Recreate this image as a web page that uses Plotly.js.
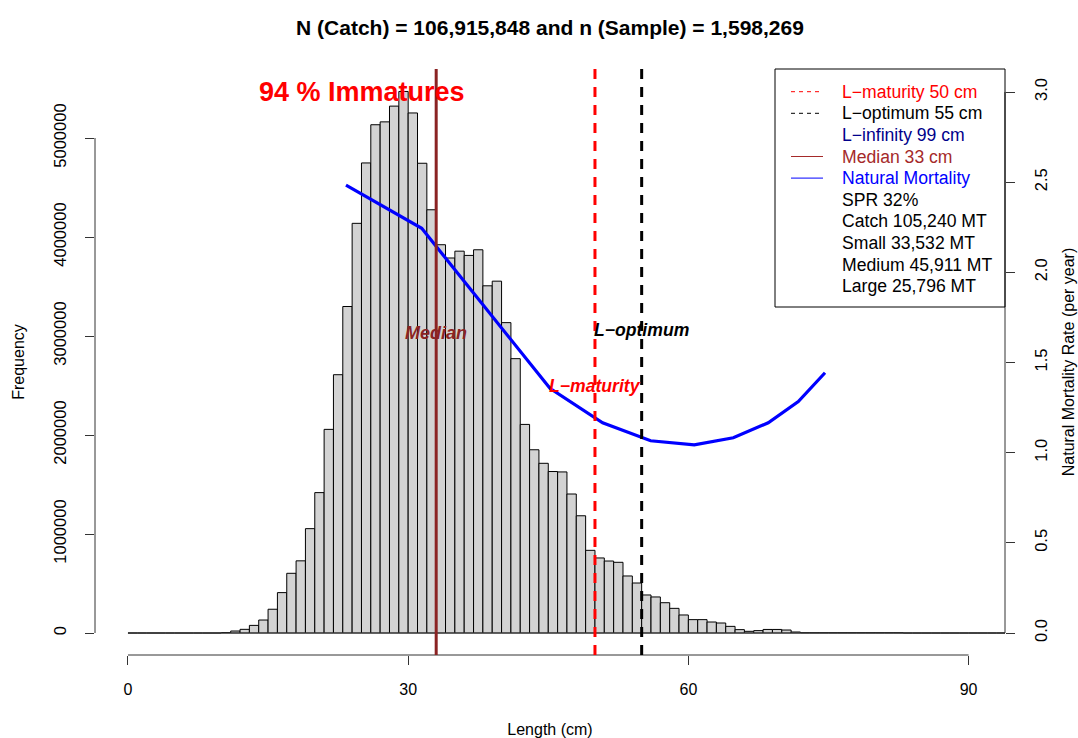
<!DOCTYPE html>
<html>
<head>
<meta charset="utf-8">
<script src="https://cdn.plot.ly/plotly-3.0.1.min.js"></script>
<style>html,body{margin:0;padding:0;background:#fff;}#chart{width:1078px;height:738px;}</style>
</head>
<body>
<div id="chart"></div>
<script>
// ---- Data ----
const binStarts = Array.from({length: 94}, (_, i) => i); // 1 cm bins, 0..93
const frequency = [
  0, 0, 0, 0, 0, 0, 0, 0, 0, 0,
  5000, 20000, 37000, 77000, 131000, 240000, 408000, 603000, 729000, 1054000,
  1418000, 2057000, 2609000, 3298000, 4138000, 4748000, 5134000, 5163000, 5322000, 5470000,
  5253000, 4745000, 4275000, 3922000, 3788000, 3857000, 3814000, 3871000, 3507000, 3554000,
  3135000, 2771000, 2107000, 1851000, 1714000, 1631000, 1627000, 1404000, 1184000, 835000,
  758000, 727000, 714000, 576000, 505000, 384000, 364000, 306000, 249000, 182000,
  135000, 135000, 111000, 101000, 67000, 34000, 17000, 24000, 36000, 36000,
  30000, 10000, 3000, 3000, 3000, 3000, 3000, 3000, 3000, 3000,
  3000, 3000, 3000, 0, 0, 0, 0, 0, 0, 0,
  0, 0, 0, 0
];
const mortLength = [23.34, 31.45, 45.18, 50.82, 55.96, 60.63, 64.81, 68.55, 71.77, 74.63];
const mortRate   = [2.484, 2.244, 1.357, 1.166, 1.066, 1.043, 1.083, 1.166, 1.283, 1.443];
const medianLen = 33;
const lMaturity = 50;
const lOptimum = 55;
const lInfinity = 99;
const xTicks = [0, 30, 60, 90];
const yTicks = [0, 1000000, 2000000, 3000000, 4000000, 5000000];
const y2Ticks = [0, 0.5, 1.0, 1.5, 2.0, 2.5, 3.0];
const titleText = "N (Catch) = 106,915,848 and n (Sample) = 1,598,269";
const immatureText = "94 % Immatures";
const legendItems = [
  {text: "L\u2212maturity " + lMaturity + " cm", color: "#FF0000", key: "dash", keyColor: "#FF0000"},
  {text: "L\u2212optimum " + lOptimum + " cm", color: "#000000", key: "dash", keyColor: "#000000"},
  {text: "L\u2212infinity " + lInfinity + " cm", color: "#00008B", key: null},
  {text: "Median " + medianLen + " cm", color: "#A52A2A", key: "solid", keyColor: "#A52A2A"},
  {text: "Natural Mortality", color: "#0000FF", key: "solid", keyColor: "#0000FF"},
  {text: "SPR 32%", color: "#000000", key: null},
  {text: "Catch 105,240 MT", color: "#000000", key: null},
  {text: "Small 33,532 MT", color: "#000000", key: null},
  {text: "Medium 45,911 MT", color: "#000000", key: null},
  {text: "Large 25,796 MT", color: "#000000", key: null}
];

// ---- Chart ----
const FONT = "Liberation Sans, Arial, Helvetica, sans-serif";
const binCenters = binStarts.map(b => b + 0.5);
const lastEdge = binStarts[binStarts.length - 1] + 1;

const traces = [
  {
    type: "scatter", mode: "lines",
    x: [binStarts[0], lastEdge], y: [0, 0],
    line: {color: "#444444", width: 1},
    hoverinfo: "skip", showlegend: false
  },
  {
    type: "bar", x: binCenters, y: frequency, width: 1,
    marker: {color: "#D3D3D3", line: {color: "#000000", width: 1}},
    name: "Frequency", showlegend: false
  },
  {
    type: "scatter", mode: "lines", x: mortLength, y: mortRate, yaxis: "y2",
    line: {color: "#0000FF", width: 3.2},
    name: "Natural Mortality", showlegend: false
  }
];

const plotW = 910, plotH = 586;
const px = v => v / plotW, py = v => v / plotH;

const shapes = [
  {type: "line", xref: "x", yref: "paper", x0: xTicks[0], x1: xTicks[xTicks.length - 1], y0: 0, y1: 0,
   line: {color: "#333333", width: 1}},
  {type: "line", xref: "paper", yref: "y", x0: 0, x1: 0, y0: yTicks[0], y1: yTicks[yTicks.length - 1],
   line: {color: "#333333", width: 1}},
  {type: "line", xref: "paper", yref: "y2", x0: 1, x1: 1, y0: y2Ticks[0], y1: y2Ticks[y2Ticks.length - 1],
   line: {color: "#333333", width: 1}},
  {type: "line", xref: "x", yref: "paper", x0: medianLen, x1: medianLen, y0: 0, y1: 1,
   line: {color: "#8B2323", width: 3}},
  {type: "line", xref: "x", yref: "paper", x0: lMaturity, x1: lMaturity, y0: 0, y1: 1,
   line: {color: "#FF0000", width: 3, dash: "10px,8px"}},
  {type: "line", xref: "x", yref: "paper", x0: lOptimum, x1: lOptimum, y0: 0, y1: 1,
   line: {color: "#000000", width: 3, dash: "10px,8px"}},
  {type: "rect", xref: "paper", yref: "paper", x0: 1 - px(230), x1: 1, y0: 1 - py(238), y1: 1,
   line: {color: "#000000", width: 1}, fillcolor: "rgba(255,255,255,0)"}
];

const annotations = [
  {xref: "x", yref: "y", x: 25.05, y: 5460000, text: "<b>" + immatureText + "</b>", showarrow: false,
   font: {family: FONT, size: 27, color: "#FF0000"}, xanchor: "center", yanchor: "middle"},
  {xref: "x", yref: "y", x: medianLen, y: 3030000, text: "<b><i>Median</i></b>", showarrow: false,
   font: {family: FONT, size: 18, color: "#8B2323"}, xanchor: "center", yanchor: "middle"},
  {xref: "x", yref: "y", x: lOptimum, y: 3060000, text: "<b><i>L\u2212optimum</i></b>", showarrow: false,
   font: {family: FONT, size: 17.6, color: "#000000"}, xanchor: "center", yanchor: "middle"},
  {xref: "x", yref: "y", x: lMaturity, y: 2500000, text: "<b><i>L\u2212maturity</i></b>", showarrow: false,
   font: {family: FONT, size: 17.6, color: "#FF0000"}, xanchor: "center", yanchor: "middle"}
];

const legTop = 22.7, legStep = 21.6, textX = 1 - px(165), keyX0 = 1 - px(214), keyX1 = 1 - px(182);
legendItems.forEach((it, i) => {
  const yy = 1 - py(legTop + i * legStep);
  annotations.push({xref: "paper", yref: "paper", x: textX, y: yy, text: it.text, showarrow: false,
    xanchor: "left", yanchor: "middle", font: {family: FONT, size: 17.6, color: it.color}});
  if (it.key) {
    shapes.push({type: "line", xref: "paper", yref: "paper", x0: keyX0, x1: keyX1, y0: yy, y1: yy,
      line: {color: it.keyColor, width: 1, dash: it.key === "dash" ? "4px,4px" : "solid"}});
  }
});

const layout = {
  width: 1078, height: 738,
  margin: {l: 95, r: 73, t: 69, b: 83, pad: 0},
  paper_bgcolor: "#ffffff", plot_bgcolor: "#ffffff",
  font: {family: FONT, size: 16, color: "#000000"},
  showlegend: false, bargap: 0,
  title: {text: "<b>" + titleText + "</b>", font: {family: FONT, size: 21, color: "#000000"},
          x: 0.5, xref: "paper", xanchor: "center", y: 1 - 28 / 738, yref: "container", yanchor: "middle"},
  xaxis: {range: [-3.53, 93.9], tickvals: xTicks, ticks: "outside", ticklen: 9, tickcolor: "#333333",
          showline: false, showgrid: false, zeroline: false, ticklabelstandoff: 11,
          tickfont: {family: FONT, size: 16},
          title: {text: "Length (cm)", font: {family: FONT, size: 16}, standoff: 30}},
  yaxis: {range: [-222222, 5697000], tickvals: yTicks, tickformat: "d", ticks: "outside", ticklen: 9,
          tickcolor: "#333333", tickangle: -90, showline: false, showgrid: false, zeroline: false,
          ticklabelstandoff: 12, tickfont: {family: FONT, size: 16.5},
          title: {text: "Frequency", font: {family: FONT, size: 16}, standoff: 22}},
  yaxis2: {range: [-0.122, 3.1276], overlaying: "y", side: "right", tickvals: y2Ticks, tickformat: ".1f",
           ticks: "outside", ticklen: 9, tickcolor: "#333333", tickangle: -90, showline: false,
           showgrid: false, zeroline: false, ticklabelstandoff: 12, tickfont: {family: FONT, size: 16.5},
           title: {text: "Natural Mortality Rate (per year)", font: {family: FONT, size: 16}, standoff: 14}},
  shapes: shapes,
  annotations: annotations
};

Plotly.newPlot("chart", traces, layout, {displayModeBar: false, staticPlot: true});
</script>
</body>
</html>
